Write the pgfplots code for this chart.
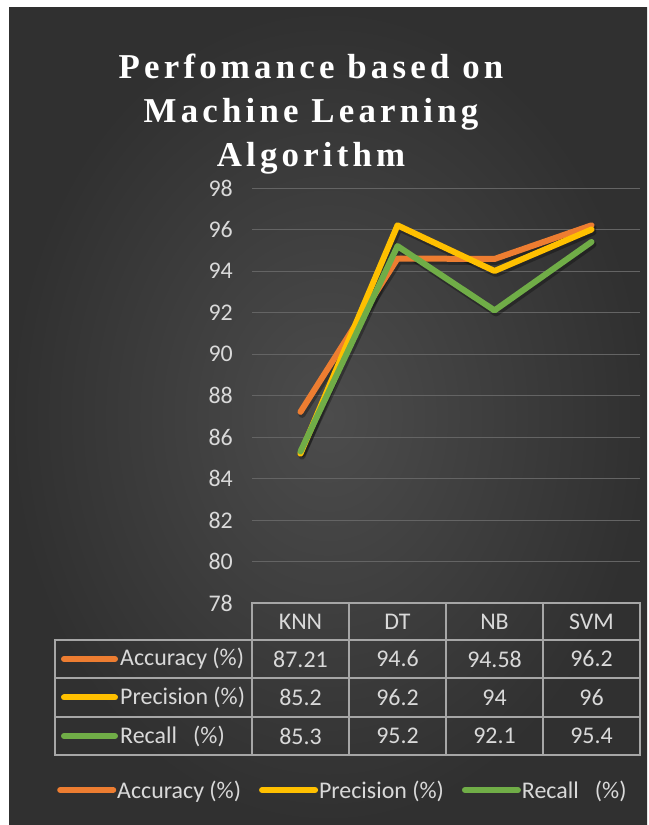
\documentclass[border=0pt]{standalone}
\usepackage{pgfplots}
\pgfplotsset{compat=1.18}
\usepackage{pgfplotstable}
\usepackage{fontspec}
\setmainfont{Carlito}
\newfontfamily\titlefont[LetterSpace=12]{Liberation Serif}
\definecolor{bgin}{HTML}{4C4C4C}
\definecolor{bgout}{HTML}{303030}
\definecolor{txt}{HTML}{D9D9D9}
\definecolor{gridc}{HTML}{646464}
\definecolor{tabc}{HTML}{A6A6A6}
\definecolor{acc}{HTML}{ED7D31}
\definecolor{prec}{HTML}{FFC000}
\definecolor{rec}{HTML}{70AD47}
\pgfplotstableread{
x acc prec rec
0 87.21 85.2 85.3
1 94.6 96.2 95.2
2 94.58 94 92.1
3 96.2 96 95.4
}\perf
\newcommand{\tf}{\fontsize{24}{24}\selectfont}
\begin{document}
\begin{tikzpicture}[x=1bp,y=1bp]
\useasboundingbox (0,0) rectangle (649,825);
\fill[white] (0,0) rectangle (649,825);
\shade[inner color=bgin, outer color=bgout] (9,0) rectangle (647,817);
% title
\foreach \t/\yy in {{Perfomance based on}/746,{Machine Learning}/702,{Algorithm}/658}{
  \node[anchor=base, text=white, font=\titlefont\bfseries\fontsize{35}{44}\selectfont] at (311,\yy) {\t};
}
\begin{axis}[
  at={(252bp,222bp)}, anchor=south west,
  width=388bp, height=415bp, scale only axis,
  xmin=-0.5, xmax=3.5, ymin=78, ymax=98,
  ytick={78,80,...,98}, xtick=\empty,
  ymajorgrids, grid style={gridc, line width=0.8bp},
  axis line style={draw=none},
  major tick length=0pt,
  yticklabel style={text=txt, font=\tf, inner sep=0pt, xshift=-19bp},
  /pgf/number format/assume math mode=true,
  legend columns=3,
  legend style={draw=none, fill=none, text=txt, font=\tf,
    at={(axis description cs:-0.5025,-0.4506)}, anchor=west, inner sep=0pt,
    nodes={inner sep=1bp},
    /tikz/every even column/.append style={column sep=17bp}},
  legend image code/.code={\draw[#1, line width=6bp, line cap=round] (3bp,0bp) -- (56bp,0bp);},
]
\addplot[black, opacity=0.3, line width=7bp, line join=round, line cap=round, xshift=1.5bp, yshift=-2.5bp, forget plot] table[x=x,y=acc]{\perf};
\addplot[black, opacity=0.3, line width=7bp, line join=round, line cap=round, xshift=1.5bp, yshift=-2.5bp, forget plot] table[x=x,y=prec]{\perf};
\addplot[black, opacity=0.3, line width=7bp, line join=round, line cap=round, xshift=1.5bp, yshift=-2.5bp, forget plot] table[x=x,y=rec]{\perf};
\addplot[acc, line width=6bp, line join=round, line cap=round] table[x=x,y=acc]{\perf};
\addlegendentry{Accuracy (\%)}
\addplot[prec, line width=6bp, line join=round, line cap=round] table[x=x,y=prec]{\perf};
\addlegendentry{Precision (\%)}
\addplot[rec, line width=6bp, line join=round, line cap=round] table[x=x,y=rec]{\perf};
\addlegendentry{Recall\ \ \ (\%)}
\end{axis}
% data table
\begin{scope}[tabc, line width=1.2bp]
\draw (252,222) rectangle (640,70);
\draw (55,185) rectangle (640,70);
\foreach \yy in {147,108} \draw (55,\yy) -- (640,\yy);
\foreach \xx in {349,446,543} \draw (\xx,222) -- (\xx,70);
\end{scope}
\foreach \n/\xx in {KNN/300.5,DT/397.5,NB/494.5,SVM/591.5}
  \node[text=txt, font=\tf] at (\xx,203.5) {\n};
\foreach \a/\b/\c/\d/\yy in {87.21/94.6/94.58/96.2/166, 85.2/96.2/94/96/127.5, 85.3/95.2/92.1/95.4/89}{
  \node[text=txt, font=\tf] at (300.5,\yy) {\a};
  \node[text=txt, font=\tf] at (397.5,\yy) {\b};
  \node[text=txt, font=\tf] at (494.5,\yy) {\c};
  \node[text=txt, font=\tf] at (591.5,\yy) {\d};
}
\draw[acc, line width=6bp, line cap=round] (64,166) -- (115,166);
\draw[prec, line width=6bp, line cap=round] (64,127.5) -- (115,127.5);
\draw[rec, line width=6bp, line cap=round] (64,89) -- (115,89);
\node[anchor=west, inner sep=0pt, text=txt, font=\tf] at (120,166) {Accuracy (\%)};
\node[anchor=west, inner sep=0pt, text=txt, font=\tf] at (120,127.5) {Precision (\%)};
\node[anchor=west, inner sep=0pt, text=txt, font=\tf] at (120,89) {Recall\ \ \ (\%)};
\end{tikzpicture}
\end{document}
